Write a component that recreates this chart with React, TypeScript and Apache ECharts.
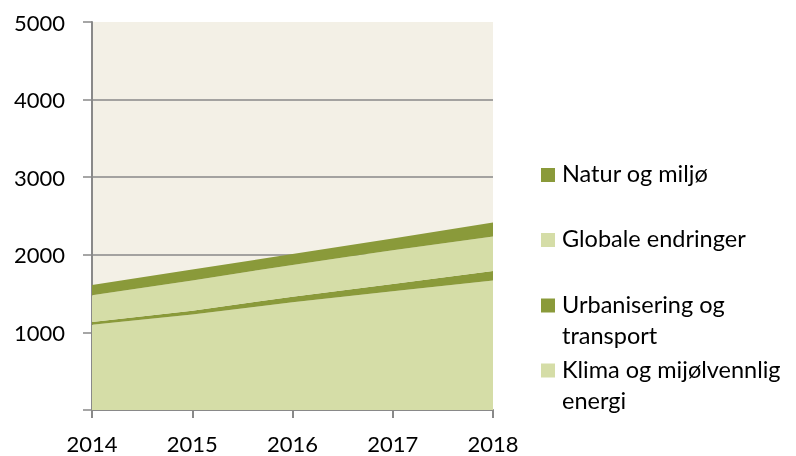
import React, { useEffect, useRef } from "react";
import * as echarts from "echarts";

const years = ["2014", "2015", "2016", "2017", "2018"];
const klima = [1100, 1230, 1390, 1530, 1670];
const urban = [35, 50, 70, 95, 120];
const globale = [345, 390, 410, 435, 445];
const natur = [130, 140, 140, 150, 180];

const seriesNames = [
  "Klima og mijølvennlig energi",
  "Urbanisering og transport",
  "Globale endringer",
  "Natur og miljø",
];
const legendLines = [
  ["Natur og miljø"],
  ["Globale endringer"],
  ["Urbanisering og", "transport"],
  ["Klima og mijølvennlig", "energi"],
];

const DARK = "#8A9A3A";
const LIGHT = "#D5DDA7";
const FONT = "Lato";

export default function App() {
  const ref = useRef<HTMLDivElement>(null);
  useEffect(() => {
    if (!ref.current) return;
    const chart = echarts.init(ref.current, undefined, { renderer: "svg" });
    const colors = [LIGHT, DARK, LIGHT, DARK];
    const values = [klima, urban, globale, natur];
    const legendColors = [DARK, LIGHT, DARK, LIGHT];
    const iconY = [175, 240, 305.5, 370.5];
    const baseY = [182, 247, 312.7, 377.7];
    const graphics: any[] = [];
    legendLines.forEach((lines, i) => {
      graphics.push({
        type: "rect",
        shape: { x: 541, y: iconY[i] - 7, width: 14, height: 14 },
        style: { fill: legendColors[i] },
      });
      graphics.push({
        type: "text",
        x: 562,
        y: baseY[i] - 24.4,
        style: {
          text: lines.join("\n"),
          font: `23.5px "${FONT}"`,
          fill: "#000",
          lineHeight: 31,
          textVerticalAlign: "top",
        },
      });
    });
    chart.setOption({
      animation: false,
      grid: {
        left: 92,
        right: 303,
        top: 22,
        bottom: 46,
        show: true,
        backgroundColor: "#F3F0E6",
        borderWidth: 0,
      },
      xAxis: {
        type: "category",
        data: years,
        boundaryGap: false,
        axisLine: { lineStyle: { color: "#898989", width: 2 } },
        axisTick: { length: 8, lineStyle: { color: "#898989", width: 2 } },
        axisLabel: {
          color: "#000",
          fontFamily: FONT,
          fontSize: 22,
          margin: 22,
        },
      },
      yAxis: {
        type: "value",
        min: 0,
        max: 5000,
        interval: 1000,
        axisLine: { show: true, lineStyle: { color: "#898989", width: 2 } },
        axisTick: { show: true, length: 9, lineStyle: { color: "#898989", width: 1.5 } },
        splitLine: {
          lineStyle: {
            color: ["#898989", "#898989", "#898989", "#898989", "#898989", "rgba(0,0,0,0)"],
            width: 1.5,
          },
        },
        axisLabel: {
          color: "#000",
          fontFamily: FONT,
          fontSize: 22,
          margin: 27,
          formatter: (v: number) => (v === 0 ? "" : String(v)),
        },
      },
      series: seriesNames.map((name, i) => ({
        name,
        type: "line",
        stack: "total",
        data: values[i],
        showSymbol: false,
        symbol: "none",
        lineStyle: { width: 0 },
        areaStyle: { color: colors[i], opacity: 1 },
        itemStyle: { color: colors[i] },
        z: 2,
      })),
      graphic: graphics,
    });
    return () => chart.dispose();
  }, []);
  return (
    <div
      ref={ref}
      style={{ position: "fixed", left: 0, top: 0, width: 796, height: 456 }}
    />
  );
}
